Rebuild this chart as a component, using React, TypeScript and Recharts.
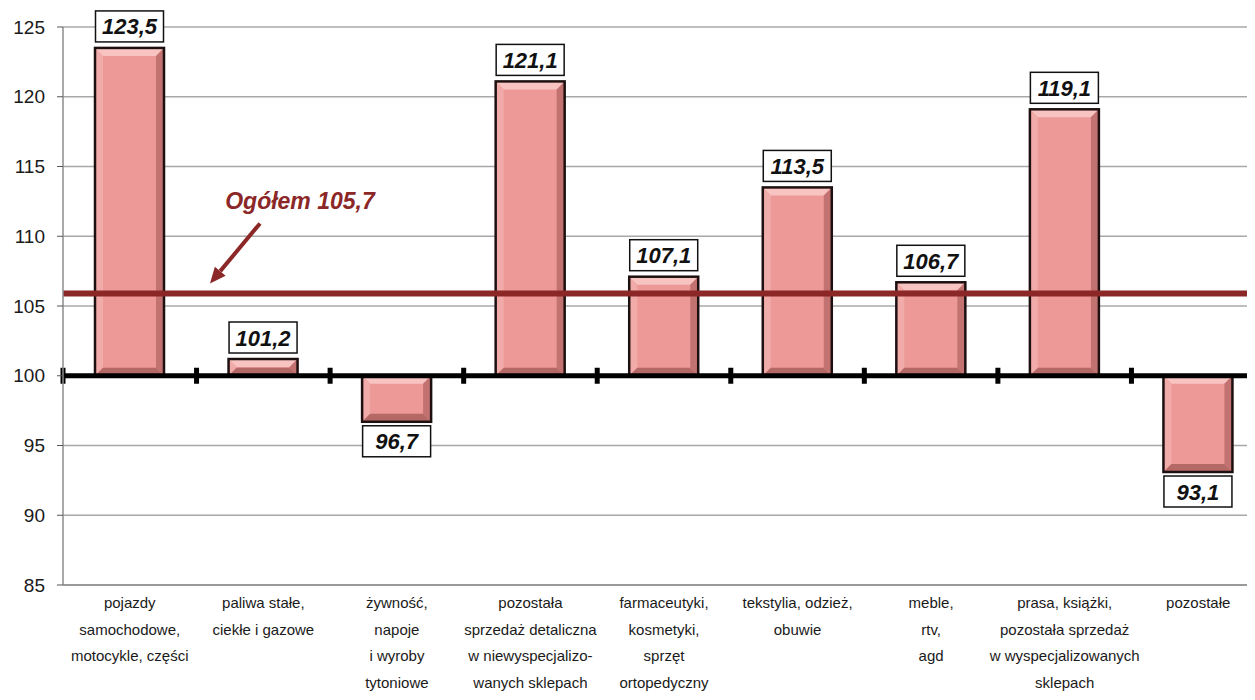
// @ts-nocheck
import { BarChart, Bar, XAxis, YAxis, CartesianGrid, ReferenceLine, LabelList } from 'recharts';

// kategorie (wiersze opisu osi X)
const categoryLines = [
  ['pojazdy', 'samochodowe,', 'motocykle, części'],
  ['paliwa stałe,', 'ciekłe i gazowe'],
  ['żywność,', 'napoje', 'i wyroby', 'tytoniowe'],
  ['pozostała', 'sprzedaż detaliczna', 'w niewyspecjalizo-', 'wanych sklepach'],
  ['farmaceutyki,', 'kosmetyki,', 'sprzęt', 'ortopedyczny'],
  ['tekstylia, odzież,', 'obuwie'],
  ['meble,', 'rtv,', 'agd'],
  ['prasa, książki,', 'pozostała sprzedaż', 'w wyspecjalizowanych', 'sklepach'],
  ['pozostałe'],
];

// wartości (poprzedni rok = 100)
const values = [123.5, 101.2, 96.7, 121.1, 107.1, 113.5, 106.7, 119.1, 93.1];

const BASE = 100;
const TOTAL_LABEL = 'Ogółem 105,7';
const TOTAL_LEVEL = 105.9; // poziom linii
const yTicks = [85, 90, 95, 100, 105, 110, 115, 120, 125];

const data = categoryLines.map((lines, i) => ({
  name: lines.join(' '),
  value: values[i],
  range: [Math.min(BASE, values[i]), Math.max(BASE, values[i])],
}));

const FONT = '"Liberation Sans", Arial, sans-serif';
const DARK_RED = '#8B2727';

function BevelBar(props) {
  const { x, y, width, height } = props;
  if (width == null || height == null) return null;
  const top = Math.min(y, y + height);
  const h = Math.abs(height);
  const w = width;
  const bottom = top + h;
  const b = Math.min(8, h / 2, w / 2);
  return (
    <g>
      <rect x={x} y={top} width={w} height={h} fill="#EC9997" />
      <polygon points={`${x},${top} ${x + w},${top} ${x + w - b},${top + b} ${x + b},${top + b}`} fill="#F7C4C2" />
      <polygon points={`${x},${top} ${x + b},${top + b} ${x + b},${bottom - b} ${x},${bottom}`} fill="#F1ABA9" />
      <polygon points={`${x + w},${top} ${x + w},${bottom} ${x + w - b},${bottom - b} ${x + w - b},${top + b}`} fill="#C27270" />
      <polygon points={`${x},${bottom} ${x + w},${bottom} ${x + w - b},${bottom - b} ${x + b},${bottom - b}`} fill="#B56967" />
      <rect x={x} y={top} width={w} height={h} fill="none" stroke="#1E1010" strokeWidth={2.5} />
    </g>
  );
}

function ValueBox(props) {
  const { x, y, width, height, value } = props;
  if (value == null) return null;
  const top = Math.min(y, y + height);
  const bottom = top + Math.abs(height);
  const cx = x + width / 2;
  const bw = 68;
  const bh = 31;
  const boxY = value >= BASE ? top - 6 - bh : bottom + 4;
  const txt = value.toFixed(1).replace('.', ',');
  return (
    <g>
      <rect x={cx - bw / 2} y={boxY} width={bw} height={bh} fill="#fff" stroke="#111" strokeWidth={1.5} />
      <text
        x={cx}
        y={boxY + bh / 2 + 8}
        textAnchor="middle"
        fontFamily={FONT}
        fontSize={22}
        fontWeight="bold"
        fontStyle="italic"
        fill="#111"
      >
        {txt}
      </text>
    </g>
  );
}

function BaseLine(props) {
  const { x1, x2, y1 } = props;
  const n = categoryLines.length;
  const step = (x2 - x1) / n;
  const ticks = [];
  for (let i = 0; i <= n; i++) {
    ticks.push(<rect key={i} x={x1 + i * step - 2.5} y={y1 - 8} width={5} height={16} fill="#000" />);
  }
  return (
    <g>
      <line x1={x1} y1={y1} x2={x2} y2={y1} stroke="#000" strokeWidth={5} />
      {ticks}
    </g>
  );
}

function TotalLabel(props) {
  const { viewBox } = props;
  if (!viewBox) return null;
  const { x, y } = viewBox;
  const ax1 = x + 197;
  const ay1 = y - 70;
  const ax2 = x + 147;
  const ay2 = y - 10;
  const ang = Math.atan2(ay2 - ay1, ax2 - ax1);
  const hl = 16;
  const hw = 7;
  const bx = ax2 - hl * Math.cos(ang);
  const by = ay2 - hl * Math.sin(ang);
  const px = -Math.sin(ang) * hw;
  const py = Math.cos(ang) * hw;
  return (
    <g>
      <text
        x={x + 237}
        y={y - 84}
        textAnchor="middle"
        fontFamily={FONT}
        fontSize={23}
        fontWeight="bold"
        fontStyle="italic"
        fill={DARK_RED}
      >
        {TOTAL_LABEL}
      </text>
      <line x1={ax1} y1={ay1} x2={bx} y2={by} stroke={DARK_RED} strokeWidth={4} />
      <polygon points={`${ax2},${ay2} ${bx + px},${by + py} ${bx - px},${by - py}`} fill={DARK_RED} />
    </g>
  );
}

function CategoryTick(props) {
  const { x, y, payload } = props;
  const lines = categoryLines[payload.index] || [];
  return (
    <g>
      {lines.map((l, i) => (
        <text
          key={i}
          x={x}
          y={y + 15 + i * 26.5}
          textAnchor="middle"
          fontFamily={FONT}
          fontSize={15}
          fill="#1a1a1a"
        >
          {l}
        </text>
      ))}
    </g>
  );
}

export default function App() {
  return (
    <div style={{ margin: -8, width: 1255, height: 700, overflow: 'hidden', background: '#fff' }}>
      <BarChart
        width={1265}
        height={700}
        data={data}
        margin={{ top: 27, right: 0, bottom: 0, left: 0 }}
        barSize={69}
      >
        <CartesianGrid vertical={false} stroke="#a8a8a8" strokeWidth={1.5} />
        <XAxis
          dataKey="name"
          height={115}
          interval={0}
          tickLine={false}
          axisLine={{ stroke: '#8c8c8c', strokeWidth: 1.5 }}
          tick={<CategoryTick />}
        />
        <YAxis
          width={63}
          domain={[85, 125]}
          ticks={yTicks}
          interval={0}
          tickSize={6}
          tickMargin={12}
          axisLine={{ stroke: '#8c8c8c', strokeWidth: 1.5 }}
          tickLine={{ stroke: '#555' }}
          tick={{ fontFamily: FONT, fontSize: 19, fill: '#1a1a1a' }}
        />
        <Bar dataKey="range" shape={<BevelBar />} isAnimationActive={false}>
          <LabelList dataKey="value" content={<ValueBox />} />
        </Bar>
        <ReferenceLine y={BASE} shape={<BaseLine />} />
        <ReferenceLine
          y={TOTAL_LEVEL}
          stroke={DARK_RED}
          strokeWidth={6}
          label={<TotalLabel />}
        />
      </BarChart>
    </div>
  );
}
